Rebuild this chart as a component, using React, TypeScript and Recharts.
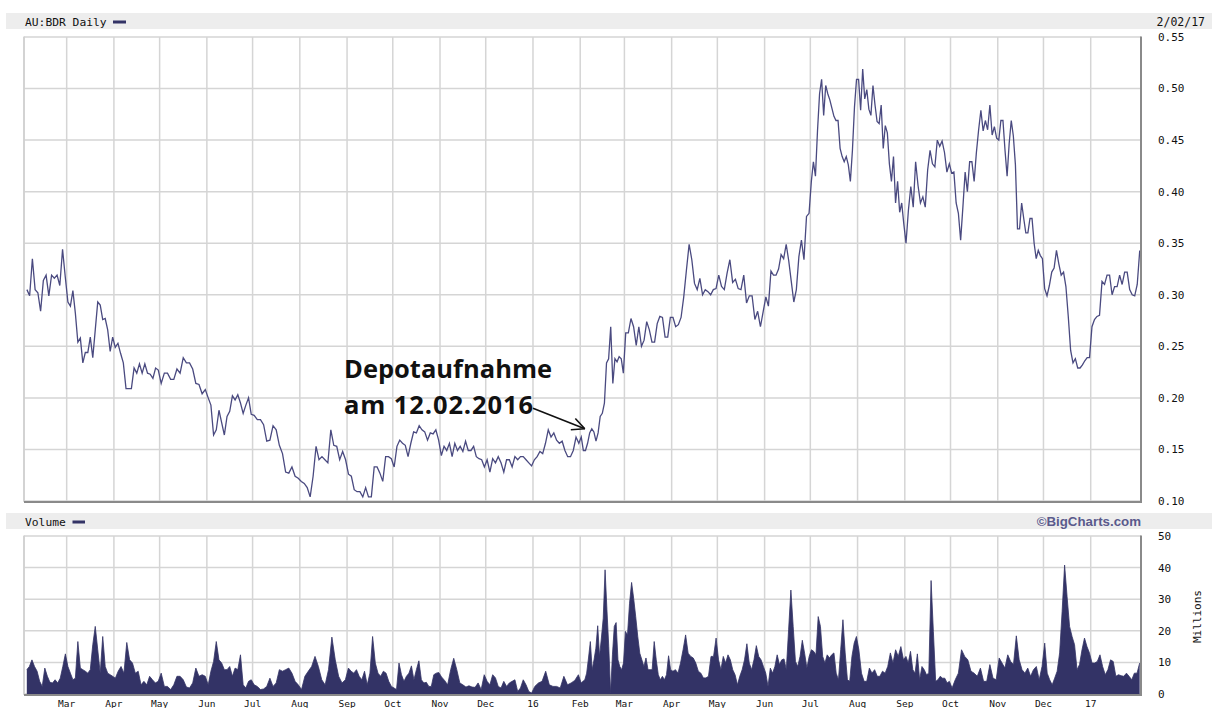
import React from 'react';
import { LineChart, Line, AreaChart, Area, XAxis, YAxis, CartesianGrid, ReferenceLine } from 'recharts';

// ---------- Daily close (AUD) by month, Feb 2015 .. Jan 2017 ----------
const p1502 = [0.305, 0.299, 0.335, 0.305, 0.302, 0.284, 0.314, 0.319, 0.299, 0.319, 0.316, 0.319, 0.309, 0.344, 0.317];
const p1503 = [0.293, 0.289, 0.304, 0.282, 0.254, 0.258, 0.234, 0.244, 0.244, 0.259, 0.239, 0.266, 0.293, 0.290, 0.276, 0.277, 0.266, 0.245, 0.259];
const p1504 = [0.249, 0.253, 0.243, 0.234, 0.209, 0.209, 0.209, 0.229, 0.224, 0.233, 0.224, 0.233, 0.224, 0.223, 0.219, 0.229, 0.227];
const p1505 = [0.214, 0.224, 0.224, 0.218, 0.218, 0.228, 0.224, 0.239, 0.234, 0.234, 0.228, 0.214, 0.213, 0.204, 0.208];
const p1506 = [0.200, 0.193, 0.164, 0.169, 0.188, 0.176, 0.164, 0.182, 0.187, 0.202, 0.198, 0.203, 0.195, 0.185, 0.193, 0.200, 0.184];
const p1507 = [0.183, 0.179, 0.179, 0.174, 0.158, 0.159, 0.173, 0.169, 0.154, 0.146, 0.128, 0.127, 0.133, 0.124, 0.122];
const p1508 = [0.119, 0.117, 0.113, 0.104, 0.124, 0.153, 0.140, 0.143, 0.140, 0.137, 0.169, 0.154, 0.153, 0.140, 0.148, 0.140];
const p1509 = [0.126, 0.124, 0.111, 0.109, 0.109, 0.104, 0.113, 0.104, 0.104, 0.133, 0.133, 0.127, 0.119, 0.143, 0.143, 0.141];
const p1510 = [0.133, 0.153, 0.159, 0.156, 0.154, 0.143, 0.156, 0.167, 0.166, 0.173, 0.169, 0.167, 0.159, 0.166, 0.165, 0.169, 0.159];
const p1511 = [0.144, 0.153, 0.149, 0.156, 0.143, 0.156, 0.149, 0.153, 0.148, 0.158, 0.149, 0.149, 0.153, 0.143, 0.141, 0.140, 0.133];
const p1512 = [0.140, 0.128, 0.141, 0.137, 0.143, 0.137, 0.128, 0.140, 0.140, 0.133, 0.143, 0.140, 0.143, 0.143, 0.140, 0.137, 0.134];
const p1601 = [0.140, 0.143, 0.148, 0.146, 0.156, 0.169, 0.162, 0.166, 0.159, 0.156, 0.158, 0.149, 0.143, 0.143, 0.149, 0.162, 0.156];
const p1602 = [0.162, 0.149, 0.149, 0.156, 0.166, 0.170, 0.167, 0.158, 0.166, 0.182, 0.185, 0.195, 0.234, 0.238, 0.269, 0.214, 0.238, 0.235, 0.240, 0.238, 0.224];
const p1603 = [0.263, 0.263, 0.277, 0.269, 0.251, 0.269, 0.250, 0.256, 0.274, 0.266, 0.254, 0.254, 0.272, 0.279, 0.278, 0.259, 0.259, 0.278];
const p1604 = [0.278, 0.269, 0.271, 0.278, 0.298, 0.324, 0.349, 0.334, 0.311, 0.305, 0.316, 0.300, 0.305, 0.303, 0.300, 0.305, 0.306];
const p1605 = [0.319, 0.308, 0.305, 0.321, 0.334, 0.312, 0.315, 0.306, 0.305, 0.319, 0.292, 0.299, 0.299, 0.276, 0.284, 0.269, 0.284];
const p1606 = [0.298, 0.289, 0.323, 0.319, 0.319, 0.325, 0.339, 0.335, 0.349, 0.333, 0.313, 0.293, 0.305, 0.337, 0.353, 0.334, 0.376, 0.379];
const p1607 = [0.410, 0.429, 0.415, 0.459, 0.495, 0.509, 0.474, 0.503, 0.495, 0.489, 0.481, 0.473, 0.469, 0.469, 0.442, 0.434, 0.429, 0.434, 0.426, 0.410, 0.440, 0.482, 0.509];
const p1608 = [0.509, 0.479, 0.519, 0.490, 0.499, 0.480, 0.474, 0.503, 0.484, 0.468, 0.466, 0.484, 0.442, 0.464, 0.457, 0.427, 0.410, 0.434, 0.389, 0.410, 0.380, 0.389, 0.369];
const p1609 = [0.350, 0.382, 0.405, 0.385, 0.429, 0.406, 0.389, 0.395, 0.385, 0.421, 0.440, 0.427, 0.424, 0.450, 0.444, 0.449, 0.438, 0.419, 0.427];
const p1610 = [0.418, 0.419, 0.389, 0.379, 0.353, 0.385, 0.419, 0.400, 0.429, 0.429, 0.410, 0.438, 0.460, 0.479, 0.459, 0.469, 0.460, 0.484, 0.455, 0.463, 0.452];
const p1611 = [0.450, 0.469, 0.469, 0.440, 0.415, 0.447, 0.469, 0.454, 0.426, 0.364, 0.364, 0.389, 0.374, 0.360, 0.360, 0.374, 0.374, 0.350, 0.335, 0.343, 0.338, 0.335];
const p1612 = [0.306, 0.299, 0.309, 0.322, 0.326, 0.343, 0.330, 0.319, 0.322, 0.308, 0.279, 0.246, 0.234, 0.238, 0.229, 0.229, 0.232, 0.236, 0.239, 0.239];
const p1701 = [0.269, 0.276, 0.279, 0.280, 0.313, 0.310, 0.319, 0.319, 0.300, 0.308, 0.308, 0.319, 0.310, 0.322, 0.322, 0.305, 0.300, 0.299, 0.310, 0.343];

// ---------- Daily volume (millions) by month ----------
const v1502 = [7.7, 8.7, 10.8, 8.7, 7.2, 4, 2.4, 8.2, 5.6, 3.7, 3.5, 4.5, 3.5, 5, 8.7, 12.7];
const v1503 = [8.7, 6.6, 4.5, 5, 16.6, 8.2, 7.7, 7.2, 6.6, 7.7, 15.6, 21.4, 14, 6.6, 18.2, 8.7, 6.6, 6.1, 5.6];
const v1504 = [5, 7.2, 8.7, 6.6, 16.3, 10.8, 9.8, 6.6, 7.2, 2.9, 4, 2.9, 5.6, 4.5, 3.5, 4];
const v1505 = [6.6, 2.4, 2.4, 1.4, 2.9, 5.6, 5.6, 4.5, 2.2, 1.9, 3.5, 8.2, 5.6, 6.1, 5.6];
const v1506 = [2.9, 7.2, 10.3, 16.6, 10.8, 9.8, 7.7, 7.7, 8.7, 5.6, 8.2, 7.7, 12.4, 2.9, 1.9, 4, 4.5];
const v1507 = [2.9, 2.4, 1.4, 1.6, 2.4, 5, 2.4, 3.5, 7.7, 7.2, 7.7, 8.2, 6.6, 4, 2.9];
const v1508 = [1.4, 5.6, 7.2, 8.7, 11.9, 8.7, 4.5, 2.9, 7.7, 18, 10.8, 5.6, 3.5, 4.5];
const v1509 = [8.2, 7.2, 6.6, 7.7, 5.6, 4.5, 7.2, 2.9, 6.6, 18.2, 9.8, 6.6, 5.6, 7.2, 6.6, 4, 2.4];
const v1510 = [1.9, 1.4, 9.8, 6.1, 4, 5.6, 6.6, 8.9, 4.5, 7.7, 10.5, 4.5, 3.5, 3.7, 2.4, 2.4, 6.1, 6.6, 6.8];
const v1511 = [5.4, 4.3, 2.9, 7.7, 11.3, 7.7, 3.5, 2.9, 2.2, 2.6, 2.2, 2.1, 3.5, 1.4, 6.1];
const v1512 = [4, 2.9, 6.1, 5.1, 2.4, 1.9, 4, 2.4, 3.5, 4, 4.5, 0.8, 1.9, 4.5, 2.9, 0.8, 0.3];
const v1601 = [2.4, 3.5, 4, 7.2, 2.9, 2.4, 2.4, 1.9, 5.6, 2.9, 3.5, 4.3, 6.1];
const v1602 = [3.5, 4, 4.5, 6.6, 11.4, 16.6, 7.7, 10.8, 14.5, 21.6, 11.9, 17.7, 24, 39.3, 26.8, 15, 0.3, 12.4, 21.4, 22.6, 10.8, 8.7, 7.7, 9.8];
const v1603 = [19.8, 18.7, 28.7, 35.3, 30.3, 24.5, 18.2, 12.9, 10.8, 8.7, 11.4, 7.7, 7.7, 7.7, 16.6, 10.8, 6.1, 4.5, 5.6, 4.5, 6.1, 12.1, 7.7];
const v1604 = [7.2, 7.7, 6.6, 9.8, 14, 18.7, 12.9, 11.9, 11.4, 9.8, 7.2, 6.6, 5.1, 5.1, 5.6, 11.9, 11.9, 17.7];
const v1605 = [10.8, 7.7, 11.9, 9.8, 12.4, 10.8, 7.7, 6.1, 2.9, 5.6, 7.7, 10.8, 15.9, 9.8, 7.7, 10.8, 15.3, 11.9, 10.8, 8.7];
const v1606 = [6.6, 2.4, 8.2, 6.6, 8.7, 12.4, 9.3, 10.8, 11.1, 7.7, 20.3, 32.9, 21.4, 10.3, 8.7, 11.9, 17, 12.9, 8.2, 11.9];
const v1607 = [14, 13.5, 12.4, 24.5, 21.4, 11.9, 9.8, 12.4, 11.4, 12.4, 13, 6.6, 4.5, 14, 23.5, 13, 4.5, 4, 11.9, 16.1, 18.2];
const v1608 = [14, 6.6, 4, 4, 8.2, 6.6, 7.7, 5.6, 5.6, 7.2, 6.6, 8.7, 13, 9.8, 14, 11.9, 15, 10.8];
const v1609 = [11.9, 9.8, 13.5, 7.7, 6.6, 12.7, 4.5, 8.7, 7.7, 6.1, 6.6, 35.9, 19.8, 4, 4.5, 5.6, 5, 5, 3.5, 4];
const v1610 = [1.9, 4.5, 6.6, 14, 11.9, 10.8, 7.2, 6.6, 5.6, 8.2, 4, 4, 9.3, 5, 4.5];
const v1611 = [11.4, 9.8, 8.2, 12.4, 10.3, 9.3, 18.4, 10.8, 7.7, 6.6, 8.2, 5.6, 7.7, 8.7, 4.5, 8.7];
const v1612 = [16.1, 6.6, 4.5, 2.9, 5, 7.2, 13, 26.1, 40.8, 30.8, 21.4, 18.2, 15.6, 7.7, 9.3, 14, 17.7, 15, 13];
const v1701 = [9.8, 9.8, 10.3, 12.4, 8.7, 6.1, 7.7, 10.8, 10.3, 5.6, 6.1, 5.8, 5.6, 6.6, 5.6, 4.5, 6.6, 6.6, 9.8];

const priceMonths = [p1502, p1503, p1504, p1505, p1506, p1507, p1508, p1509, p1510, p1511, p1512, p1601,
  p1602, p1603, p1604, p1605, p1606, p1607, p1608, p1609, p1610, p1611, p1612, p1701];
const volumeMonths = [v1502, v1503, v1504, v1505, v1506, v1507, v1508, v1509, v1510, v1511, v1512, v1601,
  v1602, v1603, v1604, v1605, v1606, v1607, v1608, v1609, v1610, v1611, v1612, v1701];

const monthNames = ['Jan', 'Feb', 'Mar', 'Apr', 'May', 'Jun', 'Jul', 'Aug', 'Sep', 'Oct', 'Nov', 'Dec'];
const priceTicks = [0.10, 0.15, 0.20, 0.25, 0.30, 0.35, 0.40, 0.45, 0.50, 0.55];
const volumeTicks = [0, 10, 20, 30, 40, 50];

// annotation: arrow from end of text to the 12.02.2016 price
const arrowTail = { day: 333, price: 0.190 };
const arrowHead = { day: 367, price: 0.170 };

// ---------- date helpers ----------
const START = Date.UTC(2015, 1, 2); // first trading day shown
const dayOf = (y: number, m: number, d: number) => Math.round((Date.UTC(y, m, d) - START) / 86400000);
const monthKey = (k: number) => ({ y: 2015 + Math.floor((1 + k) / 12), m: (1 + k) % 12 });
const segStart = (k: number) => (k === 0 ? 0 : dayOf(monthKey(k).y, monthKey(k).m, 1));
const segEnd = (k: number) => (k === 23 ? dayOf(2017, 1, 3) : segStart(k + 1));

const build = (months: number[][]) =>
  months.flatMap((arr, k) => {
    const s = segStart(k);
    const e = segEnd(k);
    return arr.map((v, i) => ({ day: s + ((i + 0.5) * (e - s)) / arr.length, value: v }));
  });

const priceData = build(priceMonths);
const volumeData = build(volumeMonths);

const monthTicks = Array.from({ length: 23 }, (_, i) => segStart(i + 1));
const monthLabel = (d: number) => {
  const k = monthTicks.indexOf(d) + 1;
  const { y, m } = monthKey(k);
  return m === 0 ? String(y % 100) : monthNames[m];
};

const X_DOMAIN: [number, number] = [-1, 732];
const MONO = 'DejaVu Sans Mono';
const GRID = '#d5d5d5';
const NAVY = '#333366';

const ArrowShape = (props: any) => {
  const { x1, y1, x2, y2 } = props;
  const ang = Math.atan2(y2 - y1, x2 - x1) + Math.PI;
  const len = 14;
  const a1 = ang - 0.45;
  const a2 = ang + 0.45;
  return (
    <g stroke="#111" strokeWidth={1.6} fill="none">
      <line x1={x1} y1={y1} x2={x2} y2={y2} />
      <line x1={x2} y1={y2} x2={x2 + len * Math.cos(a1)} y2={y2 + len * Math.sin(a1)} />
      <line x1={x2} y1={y2} x2={x2 + len * Math.cos(a2)} y2={y2 + len * Math.sin(a2)} />
    </g>
  );
};

export default function App() {
  return (
    <div style={{ position: 'absolute', left: 0, top: 0, width: 1212, height: 708, background: '#fff', overflow: 'hidden' }}>
      {/* header bands */}
      <svg width={1212} height={708} style={{ position: 'absolute', left: 0, top: 0 }}>
        <rect x={6} y={13} width={1206} height={16} fill="#ededed" />
        <rect x={6} y={513} width={1206} height={16} fill="#ededed" />
        <text x={25} y={26} fontFamily={MONO} fontSize={11.3} fill="#111">AU:BDR Daily</text>
        <rect x={113} y={20.5} width={13} height={3} fill={NAVY} />
        <text x={1205} y={25.5} fontFamily={MONO} fontSize={11.5} fill="#111" textAnchor="end">2/02/17</text>
        <text x={25} y={526} fontFamily={MONO} fontSize={11.3} fill="#111">Volume</text>
        <rect x={72.5} y={520.5} width={12.5} height={3} fill={NAVY} />
        <text x={1141} y={526} fontFamily="Liberation Sans" fontWeight={700} fontSize={13.3} fill="#5a5a8c" textAnchor="end">©BigCharts.com</text>
      </svg>

      {/* price panel */}
      <div style={{ position: 'absolute', left: 0, top: 0 }}>
        <LineChart width={1212} height={510} data={priceData} margin={{ top: 37, right: 0, bottom: 9, left: 24 }}>
          <CartesianGrid stroke={GRID} strokeWidth={1.5} />
          <XAxis dataKey="day" type="number" domain={X_DOMAIN} ticks={monthTicks} interval={0} hide allowDataOverflow />
          <YAxis
            orientation="right"
            width={71}
            domain={[0.1, 0.55]}
            ticks={priceTicks}
            interval={0}
            allowDataOverflow
            axisLine={false}
            tickLine={false}
            tickSize={0}
            tickMargin={17}
            tickFormatter={(v: number) => v.toFixed(2)}
            tick={{ fontFamily: MONO, fontSize: 11, fill: '#111' }}
          />
          <Line type="linear" dataKey="value" stroke="#4a4a80" strokeWidth={1.3} dot={false} isAnimationActive={false} />
          <ReferenceLine
            segment={[{ x: arrowTail.day, y: arrowTail.price }, { x: arrowHead.day, y: arrowHead.price }]}
            shape={ArrowShape}
            ifOverflow="visible"
          />
        </LineChart>
      </div>

      {/* volume panel */}
      <div style={{ position: 'absolute', left: 0, top: 510 }}>
        <AreaChart width={1212} height={198} data={volumeData} margin={{ top: 26, right: 0, bottom: 0, left: 24 }}>
          <CartesianGrid stroke={GRID} strokeWidth={1.5} />
          <XAxis
            dataKey="day"
            type="number"
            domain={X_DOMAIN}
            ticks={monthTicks}
            interval={0}
            allowDataOverflow
            height={14}
            axisLine={false}
            tickLine={false}
            tickSize={0}
            tickMargin={6}
            tickFormatter={monthLabel}
            tick={{ fontFamily: MONO, fontSize: 9.5, fill: '#111' }}
          />
          <YAxis
            orientation="right"
            width={71}
            domain={[0, 50]}
            ticks={volumeTicks}
            interval={0}
            allowDataOverflow
            axisLine={false}
            tickLine={false}
            tickSize={0}
            tickMargin={17}
            tick={{ fontFamily: MONO, fontSize: 11, fill: '#111' }}
          />
          <Area type="linear" dataKey="value" stroke={NAVY} strokeWidth={0.8} fill={NAVY} fillOpacity={1} isAnimationActive={false} />
        </AreaChart>
      </div>

      {/* frame edges, axis title and annotation text */}
      <svg width={1212} height={708} style={{ position: 'absolute', left: 0, top: 0, pointerEvents: 'none' }}>
        <line x1={24} y1={36.5} x2={24} y2={502} stroke="#cfcfcf" strokeWidth={1.5} />
        <line x1={1141} y1={36.5} x2={1141} y2={503} stroke="#8a8a8a" strokeWidth={2} />
        <line x1={24} y1={502} x2={1142} y2={502} stroke="#8a8a8a" strokeWidth={2} />
        <line x1={24} y1={535.5} x2={24} y2={695} stroke="#cfcfcf" strokeWidth={1.5} />
        <line x1={1141} y1={535.5} x2={1141} y2={696} stroke="#8a8a8a" strokeWidth={2} />
        <line x1={24} y1={695} x2={1142} y2={695} stroke="#8a8a8a" strokeWidth={2} />
        <text x={1201} y={616.5} fontFamily={MONO} fontSize={11} fill="#111" textAnchor="middle" transform="rotate(-90 1201 616.5)">Millions</text>
        <text x={344} y={378} fontFamily="Open Sans" fontWeight={700} fontSize={25.5} fill="#111">Depotaufnahme</text>
        <text x={344} y={414} fontFamily="Open Sans" fontWeight={700} fontSize={25.5} letterSpacing={0.9} fill="#111">am 12.02.2016</text>
      </svg>
    </div>
  );
}
